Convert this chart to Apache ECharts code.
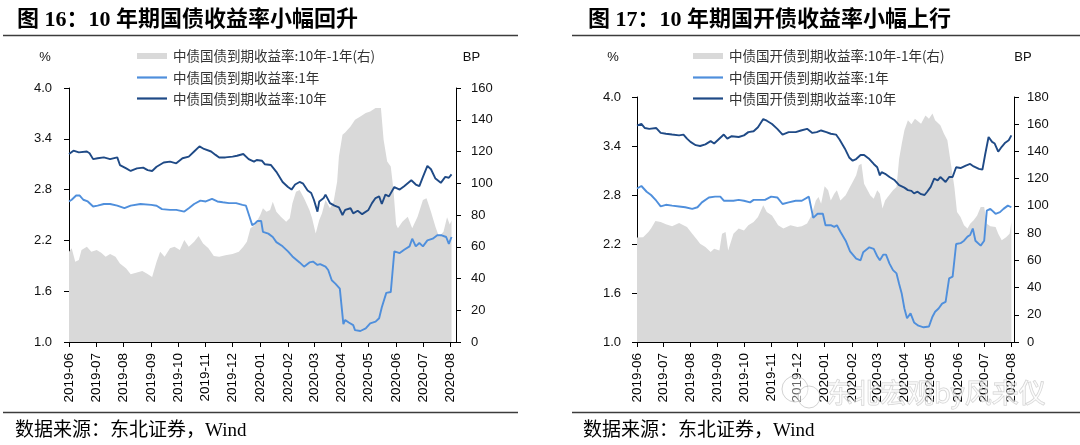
<!DOCTYPE html>
<html><head><meta charset="utf-8">
<script src="https://cdn.jsdelivr.net/npm/echarts@6/dist/echarts.min.js"></script>
<style>html,body{margin:0;padding:0;background:#fff;}#c{width:1080px;height:445px;}</style>
</head><body><div id="c"></div>
<script>
// ---------- data ----------
const leftTitle = '图 16：10 年期国债收益率小幅回升';
const rightTitle = '图 17：10 年期国开债收益率小幅上行';
const leftLegend = ['中债国债到期收益率:10年-1年(右)', '中债国债到期收益率:1年', '中债国债到期收益率:10年'];
const rightLegend = ['中债国开债到期收益率:10年-1年(右)', '中债国开债到期收益率:1年', '中债国开债到期收益率:10年'];
const sourceText = '数据来源：东北证券，Wind';
const leftRange = ['2019-06-01', '2020-08-07'];
const rightRange = ['2019-06-01', '2020-08-04'];

const cgb10 = [
['2019-06-01',3.22],['2019-06-06',3.26],['2019-06-12',3.24],['2019-06-21',3.25],['2019-06-24',3.23],['2019-06-28',3.16],
['2019-07-03',3.17],['2019-07-10',3.18],['2019-07-17',3.16],['2019-07-25',3.18],['2019-07-28',3.09],['2019-08-04',3.05],
['2019-08-09',3.02],['2019-08-16',3.05],['2019-08-23',3.06],['2019-08-28',3.03],['2019-09-02',3.02],['2019-09-07',3.07],
['2019-09-15',3.12],['2019-09-22',3.13],['2019-09-29',3.11],['2019-10-06',3.17],['2019-10-13',3.19],['2019-10-19',3.25],
['2019-10-25',3.31],['2019-10-30',3.28],['2019-11-07',3.25],['2019-11-12',3.21],['2019-11-16',3.18],['2019-11-23',3.18],
['2019-12-01',3.19],['2019-12-06',3.20],['2019-12-13',3.22],['2019-12-19',3.16],['2019-12-25',3.13],['2019-12-28',3.15],
['2020-01-03',3.14],['2020-01-06',3.10],['2020-01-13',3.09],['2020-01-19',3.01],['2020-01-26',2.89],['2020-02-01',2.83],
['2020-02-05',2.80],['2020-02-09',2.86],['2020-02-14',2.89],['2020-02-18',2.87],['2020-02-23',2.79],['2020-02-27',2.76],
['2020-03-01',2.68],['2020-03-05',2.54],['2020-03-07',2.66],['2020-03-12',2.70],['2020-03-14',2.74],['2020-03-19',2.64],
['2020-03-24',2.61],['2020-03-29',2.59],['2020-04-02',2.50],['2020-04-05',2.56],['2020-04-11',2.58],['2020-04-14',2.52],
['2020-04-19',2.55],['2020-04-24',2.51],['2020-05-01',2.56],['2020-05-05',2.64],['2020-05-09',2.70],['2020-05-13',2.72],
['2020-05-16',2.63],['2020-05-20',2.74],['2020-05-24',2.72],['2020-05-30',2.83],['2020-06-05',2.80],['2020-06-10',2.84],
['2020-06-18',2.91],['2020-06-23',2.86],['2020-06-27',2.84],['2020-07-01',2.95],['2020-07-06',3.08],['2020-07-10',3.04],
['2020-07-15',2.93],['2020-07-21',2.88],['2020-07-26',2.95],['2020-07-30',2.94],['2020-08-02',2.98]
];
const cgb1 = [
['2019-06-01',2.66],['2019-06-04',2.68],['2019-06-09',2.73],['2019-06-13',2.73],['2019-06-17',2.68],['2019-06-22',2.66],
['2019-06-28',2.60],['2019-07-03',2.61],['2019-07-10',2.63],['2019-07-17',2.63],['2019-07-25',2.61],['2019-08-02',2.58],
['2019-08-09',2.61],['2019-08-20',2.63],['2019-09-01',2.62],['2019-09-07',2.61],['2019-09-13',2.57],['2019-09-22',2.56],
['2019-09-29',2.56],['2019-10-08',2.54],['2019-10-13',2.58],['2019-10-19',2.63],['2019-10-26',2.67],['2019-11-01',2.66],
['2019-11-08',2.69],['2019-11-14',2.66],['2019-11-20',2.65],['2019-11-27',2.64],['2019-12-05',2.64],['2019-12-12',2.62],
['2019-12-16',2.61],['2019-12-20',2.48],['2019-12-23',2.38],['2019-12-26',2.40],['2019-12-29',2.43],['2020-01-02',2.43],
['2020-01-04',2.30],['2020-01-10',2.28],['2020-01-15',2.24],['2020-01-19',2.18],['2020-01-26',2.13],['2020-02-01',2.07],
['2020-02-06',2.01],['2020-02-14',1.94],['2020-02-19',1.89],['2020-02-25',1.94],['2020-02-29',1.95],['2020-03-05',1.91],
['2020-03-08',1.92],['2020-03-14',1.89],['2020-03-17',1.85],['2020-03-21',1.73],['2020-03-25',1.69],['2020-03-30',1.63],
['2020-04-03',1.21],['2020-04-05',1.26],['2020-04-09',1.23],['2020-04-14',1.20],['2020-04-16',1.14],['2020-04-22',1.13],
['2020-04-28',1.16],['2020-05-03',1.22],['2020-05-09',1.24],['2020-05-13',1.28],['2020-05-16',1.41],['2020-05-21',1.58],
['2020-05-26',1.59],['2020-05-30',2.07],['2020-06-05',2.05],['2020-06-10',2.09],['2020-06-16',2.13],['2020-06-19',2.22],
['2020-06-23',2.13],['2020-06-27',2.17],['2020-07-01',2.13],['2020-07-06',2.20],['2020-07-12',2.22],['2020-07-17',2.26],
['2020-07-22',2.26],['2020-07-27',2.24],['2020-07-30',2.16],['2020-08-02',2.24]
];
const cgbSpread = [
['2019-06-01',56.8],['2019-06-04',59],['2019-06-08',50.5],['2019-06-12',51.6],['2019-06-15',57.9],['2019-06-21',60],
['2019-06-26',56.8],['2019-07-02',57.9],['2019-07-07',56.2],['2019-07-12',53.7],['2019-07-17',55.4],['2019-07-23',53.7],
['2019-07-28',49.5],['2019-08-04',46.3],['2019-08-09',42.7],['2019-08-15',43.6],['2019-08-22',44.8],['2019-08-27',43.2],
['2019-09-02',41],['2019-09-07',50.5],['2019-09-11',56.8],['2019-09-16',53.7],['2019-09-22',59],['2019-09-27',60],
['2019-10-03',57.9],['2019-10-08',64.2],['2019-10-13',60],['2019-10-19',63.2],['2019-10-24',66.7],['2019-10-29',62.1],
['2019-11-04',59],['2019-11-10',54.1],['2019-11-16',53.7],['2019-11-23',54.7],['2019-12-01',55.4],['2019-12-08',56.8],
['2019-12-13',60],['2019-12-17',63.2],['2019-12-21',71.6],['2019-12-26',73.7],['2020-01-01',80],['2020-01-04',84.2],
['2020-01-08',82.1],['2020-01-12',83.1],['2020-01-15',88.4],['2020-01-19',82.1],['2020-01-24',78.9],['2020-01-30',75.8],
['2020-02-03',77.9],['2020-02-06',87.4],['2020-02-10',94.7],['2020-02-14',95.8],['2020-02-19',90.5],['2020-02-25',83.1],
['2020-02-28',77.9],['2020-03-03',68.4],['2020-03-07',76.8],['2020-03-10',81],['2020-03-14',89.5],['2020-03-19',84.2],
['2020-03-23',88.4],['2020-03-27',101],['2020-03-29',116.8],['2020-04-02',130.5],['2020-04-05',132],['2020-04-11',135.8],
['2020-04-16',140],['2020-04-22',142],['2020-04-28',144.2],['2020-05-03',145.2],['2020-05-09',147.4],['2020-05-15',147.4],
['2020-05-18',127.4],['2020-05-22',113.7],['2020-05-26',110.5],['2020-05-29',96],['2020-06-01',74],['2020-06-03',71.6],
['2020-06-08',75.8],['2020-06-14',78.9],['2020-06-19',71.6],['2020-06-25',78.9],['2020-07-01',89.5],['2020-07-05',90.5],
['2020-07-10',82.1],['2020-07-15',72.6],['2020-07-19',66.3],['2020-07-24',69.5],['2020-07-28',78.6],['2020-07-31',74],
['2020-08-02',76.5]
];
const cdb10 = [
['2019-06-01',3.65],['2019-06-06',3.67],['2019-06-10',3.62],['2019-06-15',3.61],['2019-06-23',3.62],['2019-06-28',3.56],
['2019-07-04',3.55],['2019-07-11',3.54],['2019-07-19',3.53],['2019-07-24',3.54],['2019-07-28',3.49],['2019-08-01',3.45],
['2019-08-07',3.41],['2019-08-12',3.40],['2019-08-18',3.42],['2019-08-24',3.46],['2019-08-28',3.43],['2019-09-01',3.47],
['2019-09-08',3.54],['2019-09-12',3.49],['2019-09-17',3.52],['2019-09-25',3.51],['2019-10-01',3.53],['2019-10-06',3.57],
['2019-10-12',3.58],['2019-10-17',3.63],['2019-10-23',3.73],['2019-10-27',3.71],['2019-11-02',3.67],['2019-11-08',3.61],
['2019-11-14',3.54],['2019-11-21',3.57],['2019-11-29',3.57],['2019-12-05',3.59],['2019-12-12',3.61],['2019-12-18',3.56],
['2019-12-23',3.57],['2019-12-28',3.59],['2020-01-03',3.57],['2020-01-08',3.55],['2020-01-14',3.54],['2020-01-18',3.48],
['2020-01-24',3.37],['2020-01-29',3.26],['2020-02-02',3.22],['2020-02-06',3.24],['2020-02-11',3.29],['2020-02-15',3.29],
['2020-02-21',3.24],['2020-02-26',3.18],['2020-03-01',3.14],['2020-03-04',3.04],['2020-03-06',3.08],['2020-03-10',3.06],
['2020-03-15',3.02],['2020-03-21',2.98],['2020-03-26',2.92],['2020-04-01',2.89],['2020-04-05',2.86],['2020-04-09',2.85],
['2020-04-12',2.82],['2020-04-16',2.84],['2020-04-20',2.81],['2020-04-24',2.80],['2020-04-27',2.84],['2020-05-01',2.90],
['2020-05-05',3.00],['2020-05-09',2.98],['2020-05-12',3.02],['2020-05-18',2.96],['2020-05-22',3.02],['2020-05-26',3.02],
['2020-05-30',3.14],['2020-06-04',3.13],['2020-06-10',3.16],['2020-06-15',3.18],['2020-06-19',3.15],['2020-06-25',3.12],
['2020-06-29',3.11],['2020-07-02',3.29],['2020-07-06',3.51],['2020-07-10',3.45],['2020-07-13',3.43],['2020-07-17',3.33],
['2020-07-21',3.39],['2020-07-25',3.44],['2020-07-29',3.47],['2020-08-01',3.53]
];
const cdb1 = [
['2019-06-01',2.88],['2019-06-06',2.91],['2019-06-12',2.84],['2019-06-17',2.80],['2019-06-23',2.73],['2019-06-28',2.66],
['2019-07-04',2.68],['2019-07-11',2.67],['2019-07-19',2.66],['2019-07-26',2.65],['2019-08-03',2.63],['2019-08-09',2.65],
['2019-08-14',2.71],['2019-08-22',2.77],['2019-08-29',2.78],['2019-09-04',2.78],['2019-09-08',2.73],['2019-09-13',2.73],
['2019-09-19',2.73],['2019-09-25',2.74],['2019-10-01',2.73],['2019-10-08',2.71],['2019-10-12',2.74],['2019-10-19',2.74],
['2019-10-25',2.74],['2019-11-01',2.78],['2019-11-08',2.77],['2019-11-14',2.69],['2019-11-21',2.71],['2019-11-29',2.73],
['2019-12-06',2.73],['2019-12-14',2.78],['2019-12-19',2.52],['2019-12-24',2.57],['2019-12-30',2.57],['2020-01-02',2.43],
['2020-01-08',2.43],['2020-01-12',2.41],['2020-01-15',2.43],['2020-01-19',2.35],['2020-01-25',2.24],['2020-01-30',2.11],
['2020-02-06',2.02],['2020-02-11',2.00],['2020-02-14',2.10],['2020-02-21',2.16],['2020-02-26',2.14],['2020-03-01',2.05],
['2020-03-04',2.00],['2020-03-08',2.07],['2020-03-11',2.07],['2020-03-15',1.96],['2020-03-19',1.88],['2020-03-23',1.84],
['2020-03-26',1.71],['2020-03-29',1.59],['2020-04-01',1.41],['2020-04-04',1.29],['2020-04-08',1.35],['2020-04-12',1.24],
['2020-04-17',1.20],['2020-04-23',1.18],['2020-04-29',1.19],['2020-05-03',1.31],['2020-05-06',1.37],['2020-05-10',1.41],
['2020-05-14',1.47],['2020-05-18',1.49],['2020-05-22',1.78],['2020-05-26',1.80],['2020-05-30',2.20],['2020-06-04',2.21],
['2020-06-08',2.24],['2020-06-12',2.29],['2020-06-15',2.31],['2020-06-18',2.39],['2020-06-21',2.24],['2020-06-27',2.18],
['2020-07-01',2.24],['2020-07-04',2.61],['2020-07-08',2.63],['2020-07-14',2.57],['2020-07-19',2.59],['2020-07-23',2.63],
['2020-07-28',2.67],['2020-08-01',2.65]
];
const cdbSpread = [
['2019-06-01',76.7],['2019-06-08',77],['2019-06-14',80.8],['2019-06-17',83.3],['2019-06-22',88.9],['2019-06-28',88.2],
['2019-07-04',86.5],['2019-07-11',85],['2019-07-19',87.4],['2019-07-24',85.7],['2019-07-28',84.5],['2019-08-03',79.6],
['2019-08-09',74.7],['2019-08-12',72.2],['2019-08-18',69.8],['2019-08-24',66.1],['2019-08-28',68.6],['2019-09-03',67.3],
['2019-09-06',79.6],['2019-09-10',80.8],['2019-09-13',67.3],['2019-09-19',79.6],['2019-09-25',83.3],['2019-10-01',82],
['2019-10-06',85.7],['2019-10-12',88.2],['2019-10-17',91.8],['2019-10-23',100.4],['2019-10-27',95.5],['2019-11-02',93],
['2019-11-09',85.7],['2019-11-15',83.3],['2019-11-23',85.7],['2019-12-01',84.5],['2019-12-06',85],['2019-12-12',87],
['2019-12-17',93],['2019-12-22',104],['2019-12-25',106.5],['2019-12-28',101.6],['2020-01-01',114.4],['2020-01-05',111.4],
['2020-01-08',104],['2020-01-12',109],['2020-01-15',111.4],['2020-01-19',104],['2020-01-25',107.8],['2020-01-29',112.7],
['2020-02-02',117.6],['2020-02-06',122.5],['2020-02-09',129.8],['2020-02-12',131],['2020-02-15',116.3],['2020-02-19',111.4],
['2020-02-22',107.8],['2020-02-26',105.3],['2020-03-01',111.4],['2020-03-04',109],['2020-03-07',98],['2020-03-10',104],
['2020-03-13',106.5],['2020-03-19',111.4],['2020-03-23',113.9],['2020-03-26',134.7],['2020-03-29',145.7],['2020-04-01',155.5],
['2020-04-05',162.9],['2020-04-09',159.9],['2020-04-13',164.1],['2020-04-20',160.4],['2020-04-25',166.5],['2020-04-29',164.1],
['2020-05-03',167.8],['2020-05-06',162.9],['2020-05-12',159.2],['2020-05-16',153.1],['2020-05-20',148.2],['2020-05-24',131],
['2020-05-28',113.9],['2020-05-31',95.5],['2020-06-04',91.8],['2020-06-08',85.7],['2020-06-12',83.3],['2020-06-15',86.9],
['2020-06-19',89.4],['2020-06-23',93],['2020-06-27',99.2],['2020-07-01',99.2],['2020-07-04',86.9],['2020-07-08',85],
['2020-07-14',84.5],['2020-07-17',79.6],['2020-07-21',74.7],['2020-07-26',77],['2020-07-30',79.6],['2020-08-01',88]
];
const leftTicks = {min:1.0, max:4.0, step:0.6};
const leftRightTicks = {min:0, max:160, step:20};
const rightTicks = {min:1.0, max:4.0, step:0.6};
const rightRightTicks = {min:0, max:180, step:20};

// ---------- build ----------
function dayList(a, b) {
  const out = []; let t = Date.parse(a + 'T00:00:00Z'); const e = Date.parse(b + 'T00:00:00Z');
  while (t <= e) { out.push(new Date(t).toISOString().slice(0, 10)); t += 86400000; }
  return out;
}
const C_AREA = '#d9d9d9', C_1Y = '#4f8fdc', C_10Y = '#1f4a86';
const NUMF = '"Liberation Sans", Arial, sans-serif';
const CJKF = '"Noto Sans CJK SC", sans-serif';
const isMonth = (i, v) => v.slice(8) === '01';

function xAxis(g, cats) {
  return {type:'category', gridIndex:g, data:cats, boundaryGap:false,
    axisLine:{lineStyle:{color:'#000', width:1}},
    axisTick:{interval:isMonth, length:5, lineStyle:{color:'#000'}},
    axisLabel:{interval:isMonth, rotate:90, formatter:v => v.slice(0, 7), fontSize:13.5, color:'#000', fontFamily:NUMF, margin:11},
    splitLine:{show:false}};
}
function yAxis(g, t, pos, dec, margin) {
  return {type:'value', gridIndex:g, min:t.min, max:t.max, interval:t.step, position:pos,
    axisLine:{show:true, lineStyle:{color:'#000', width:1}},
    axisTick:{show:true, length:5, lineStyle:{color:'#000'}},
    axisLabel:{formatter:v => v.toFixed(dec), fontSize:13, color:'#111', fontFamily:NUMF, margin:margin},
    splitLine:{show:false}};
}
function area(xi, yi, d) {
  return {type:'line', xAxisIndex:xi, yAxisIndex:yi, data:d, symbol:'none', showSymbol:false,
    lineStyle:{width:0, color:C_AREA}, itemStyle:{color:C_AREA}, areaStyle:{color:C_AREA, opacity:1}, z:1, silent:true};
}
function line(xi, yi, d, c) {
  return {type:'line', xAxisIndex:xi, yAxisIndex:yi, data:d, symbol:'none', showSymbol:false,
    lineStyle:{width:1.9, color:c}, itemStyle:{color:c}, z:3, silent:true};
}
function legend(x, names) {
  const ys = [56, 77.5, 98.5], els = [];
  els.push({type:'rect', shape:{x:x, y:ys[0]-3, width:30, height:6}, style:{fill:C_AREA}});
  els.push({type:'line', shape:{x1:x, y1:ys[1], x2:x+30, y2:ys[1]}, style:{stroke:C_1Y, lineWidth:2.2}});
  els.push({type:'line', shape:{x1:x, y1:ys[2], x2:x+30, y2:ys[2]}, style:{stroke:C_10Y, lineWidth:2.2}});
  names.forEach((n, i) => els.push({type:'text', x:x+36, y:ys[i], style:{text:n, fill:'#333', font:'13.5px ' + CJKF, verticalAlign:'middle'}}));
  return els;
}
function txt(x, y, s, font, align, fill) {
  return {type:'text', x:x, y:y, style:{text:s, font:font, fill:fill || '#000', align:align || 'left', verticalAlign:'middle'}};
}
function rule(x1, x2, y) {
  return {type:'line', shape:{x1:x1, y1:y, x2:x2, y2:y}, style:{stroke:'#3c3c3c', lineWidth:1.6}};
}

const catsL = dayList(leftRange[0], leftRange[1]);
const catsR = dayList(rightRange[0], rightRange[1]);
const TITLEF = 'bold 22px "Liberation Serif", "Noto Sans CJK SC", serif';
const SRCF = '19px "Liberation Serif", "Noto Sans CJK SC", serif';

const graphics = [].concat(
  [txt(17, 20, leftTitle, TITLEF), txt(588, 20, rightTitle, TITLEF),
   rule(3, 518, 35.5), rule(572, 1080, 35.5), rule(3, 518, 412.5), rule(572, 1080, 412.5),
   txt(15, 431, sourceText, SRCF), txt(583, 431, sourceText, SRCF),
   txt(45, 57, '%', '13px ' + NUMF, 'center', '#111'), txt(471.5, 57, 'BP', '13px ' + NUMF, 'center', '#111'),
   txt(613, 57, '%', '13px ' + NUMF, 'center', '#111'), txt(1023, 57, 'BP', '13px ' + NUMF, 'center', '#111')],
  legend(137, leftLegend), legend(693, rightLegend),
  [{type:'text', x:826, y:393, z:100, style:{text:'东北宏观by风来仪', font:'27px ' + CJKF, fill:'rgba(255,255,255,0.55)', stroke:'rgba(160,160,160,0.5)', lineWidth:1, verticalAlign:'middle'}},
   {type:'circle', z:100, shape:{cx:795, cy:389, r:13}, style:{fill:'rgba(255,255,255,0.4)', stroke:'rgba(165,165,165,0.5)', lineWidth:1}},
   {type:'circle', z:100, shape:{cx:809, cy:397, r:11}, style:{fill:'rgba(255,255,255,0.4)', stroke:'rgba(165,165,165,0.5)', lineWidth:1}}]
);

const chart = echarts.init(document.getElementById('c'), null, {renderer:'canvas'});
chart.setOption({
  animation:false,
  backgroundColor:'#fff',
  grid:[{left:69, top:88, width:387, height:254}, {left:637, top:97, width:377, height:245}],
  xAxis:[xAxis(0, catsL), xAxis(1, catsR)],
  yAxis:[yAxis(0, leftTicks, 'left', 1, 17), yAxis(0, leftRightTicks, 'right', 0, 15),
         yAxis(1, rightTicks, 'left', 1, 16), yAxis(1, rightRightTicks, 'right', 0, 13)],
  series:[area(0, 1, cgbSpread), line(0, 0, cgb1, C_1Y), line(0, 0, cgb10, C_10Y),
          area(1, 3, cdbSpread), line(1, 2, cdb1, C_1Y), line(1, 2, cdb10, C_10Y)],
  graphic:graphics
});
</script></body></html>
